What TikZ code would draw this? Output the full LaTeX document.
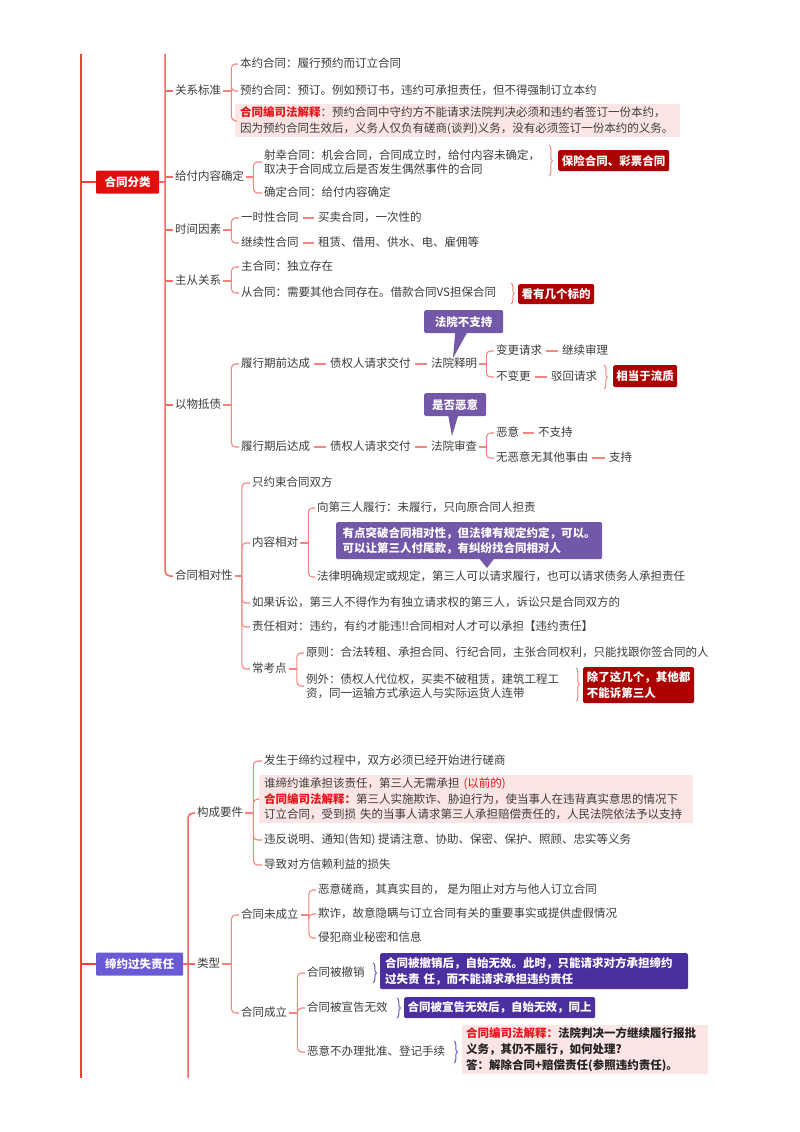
\documentclass[tikz,border=0pt]{standalone}
\usepackage{fontspec}
\setmainfont{Noto Sans CJK SC}
\usetikzlibrary{decorations.pathreplacing}
\definecolor{trunkred}{HTML}{EF4136}
\definecolor{lvred}{HTML}{F26A62}
\definecolor{linkred}{HTML}{F4857E}
\definecolor{txtgray}{HTML}{3C3C3C}
\definecolor{rootred}{HTML}{E30D0D}
\definecolor{darkred}{HTML}{AD0000}
\definecolor{lawred}{HTML}{E8141B}
\definecolor{pinkbg}{HTML}{FCE5E5}
\definecolor{callpurple}{HTML}{7357A8}
\definecolor{indigo}{HTML}{4B2F9F}
\definecolor{rootpurple}{HTML}{6B5AD6}
\definecolor{bracepurple}{HTML}{6A55C8}
\definecolor{darktxt}{HTML}{222222}
\newcommand{\myfs}{\fontsize{11.5pt}{14.5pt}\selectfont}
\newcommand{\myfsb}{\fontsize{11.5pt}{15.5pt}\selectfont}
\begin{document}
\begin{tikzpicture}[x=1pt,y=-1pt,
  txt/.style={anchor=west, inner xsep=2pt, inner ysep=1pt, text=txtgray, font=\myfs, align=left, text height=0.85em, text depth=0.12em},
  txtm/.style={anchor=west, inner xsep=2pt, inner ysep=1pt, text=txtgray, font=\myfs, align=left},
  conn/.style={draw=linkred, line width=1.1pt, rounded corners=4pt},
  dashc/.style={draw=linkred, line width=1.4pt, shorten <=2pt, shorten >=2pt},
  trunk/.style={draw=trunkred, line width=2.4pt},
  lvl/.style={draw=lvred, line width=1.5pt, rounded corners=5pt},
  rbrace/.style={draw=linkred, line width=1pt, decorate, decoration={brace, amplitude=3.5pt}},
  pbrace/.style={draw=bracepurple, line width=1pt, decorate, decoration={brace, amplitude=3.5pt}},
  box/.style={anchor=north west, text=white, font=\myfsb\bfseries, inner sep=0pt, align=left, rounded corners=1.5pt},
  redbox/.style={box, fill=darkred},
  callbox/.style={box, fill=callpurple},
  indbox/.style={box, fill=indigo},
  pinkbox/.style={anchor=north west, fill=pinkbg, text=txtgray, font=\myfsb, inner xsep=5pt, inner ysep=0pt, align=left},
  rootbox/.style={text=white, font=\myfs\bfseries, inner sep=0pt, minimum height=23pt, rounded corners=1pt}
]
\fill[white] (0,0) rectangle (800,1132);
\useasboundingbox (0,0) rectangle (800,1132);

% ===== trunk =====
\coordinate (T0) at (81,54);
\coordinate (T1) at (81,1078);
\draw[trunk] (T0) -- (T1);

% ===== branch 1 =====
\node[rootbox, fill=rootred, minimum width=63pt] (r1) at (127.5,182) {合同分类};
\draw[trunk] (T0 |- r1) -- (r1.west);
\coordinate (L1t) at (165,54);

\node[txt] (gx) at (173,91) {关系标准};
\node[txt] (jf) at (173,177) {给付内容确定};
\node[txt] (sj) at (173,230) {时间因素};
\node[txt] (zc) at (173,281) {主从关系};
\node[txt] (yw) at (173,405) {以物抵债};
\node[txt] (xd) at (173,576) {合同相对性};

\draw[lvl] (L1t) |- (xd.west);
\draw[lvl] (r1.east) -- (L1t |- r1);
\foreach \c in {gx,jf,sj,zc,yw} \draw[lvl] (L1t |- \c) -- (\c.west);

% 关系标准
\node[txt] (by) at (238,64) {本约合同：履行预约而订立合同};
\node[txt] (yy) at (238,91) {预约合同：预订。例如预订书，违约可承担责任，但不得强制订立本约};
\node[pinkbox, text width=435pt, minimum height=33pt] (pk1) at (235,104) {{\color{lawred}\bfseries 合同编司法解释}：预约合同中守约方不能请求法院判决必须和违约者签订一份本约，\\因为预约合同生效后，义务人仅负有磋商(谈判)义务，没有必须签订一份本约的义务。};
\draw[conn] (gx.east) -- ([xshift=8pt]gx.east);
\foreach \c in {by,yy,pk1} \draw[conn] ([xshift=8pt]gx.east) |- (\c.west);

% 给付内容确定
\node[txtm] (sx) at (262,162) {射幸合同：机会合同，合同成立时，给付内容未确定，\\取决于合同成立后是否发生偶然事件的合同};
\node[txt] (qd) at (262,193) {确定合同：给付内容确定};
\draw[conn] (jf.east) -- ([xshift=7pt]jf.east);
\foreach \c in {sx,qd} \draw[conn] ([xshift=7pt]jf.east) |- (\c.west);
\node[redbox, minimum width=111pt, minimum height=21pt, align=center] (bx1) at (558,150) {保险合同、彩票合同};
\draw[rbrace] (549,145) -- (549,176);

% 时间因素
\node[txt] (ys) at (239,218) {一时性合同};
\node[txt] (mm) at (316,218) {买卖合同，一次性的};
\node[txt] (jx) at (239,243) {继续性合同};
\node[txt] (zl) at (316,243) {租赁、借用、供水、电、雇佣等};
\draw[conn] (sj.east) -- ([xshift=8pt]sj.east);
\foreach \c in {ys,jx} \draw[conn] ([xshift=8pt]sj.east) |- (\c.west);
\draw[dashc] (ys.east) -- (mm.west);
\draw[dashc] (jx.east) -- (zl.west);

% 主从关系
\node[txt] (zh) at (239,267) {主合同：独立存在};
\node[txt] (ch) at (239,293) {从合同：需要其他合同存在。借款合同VS担保合同};
\draw[conn] (zc.east) -- ([xshift=8pt]zc.east);
\foreach \c in {zh,ch} \draw[conn] ([xshift=8pt]zc.east) |- (\c.west);
\node[redbox, minimum width=76pt, minimum height=20pt, align=center] (bx2) at (518,284) {看有几个标的};
\draw[rbrace] (511,283) -- (511,304);

% 以物抵债
\node[txt] (lq) at (239,364) {履行期前达成};
\node[txt] (zq1) at (328,364) {债权人请求交付};
\node[txt] (sm) at (429,364) {法院释明};
\node[txt] (bg) at (494,351) {变更请求};
\node[txt] (jxsl) at (560,351) {继续审理};
\node[txt] (bbg) at (494,377) {不变更};
\node[txt] (bh) at (549,377) {驳回请求};
\node[redbox, minimum width=64pt, minimum height=22pt, align=center] (bx3) at (613,365) {相当于流质};
\draw[rbrace] (604,365) -- (604,389);
\node[callbox, minimum width=79pt, minimum height=23pt, align=center] (cb1) at (424,310) {法院不支持};
\coordinate (tip1) at (453,358);
\fill[callpurple] ([xshift=-8.5pt,yshift=1pt]cb1.south) -- (tip1) -- ([xshift=3.5pt,yshift=1pt]cb1.south) -- cycle;

\node[txt] (lh) at (239,447) {履行期后达成};
\node[txt] (zq2) at (328,447) {债权人请求交付};
\node[txt] (sc) at (429,447) {法院审查};
\node[txt] (ey) at (494,433) {恶意};
\node[txt] (bzc) at (536,433) {不支持};
\node[txt] (wey) at (494,458) {无恶意无其他事由};
\node[txt] (zc2) at (607,458) {支持};
\node[callbox, minimum width=62pt, minimum height=23pt, align=center] (cb2) at (424,393) {是否恶意};
\coordinate (tip2) at (452,436);
\fill[callpurple] ([xshift=-7pt,yshift=1pt]cb2.south) -- (tip2) -- ([xshift=3pt,yshift=1pt]cb2.south) -- cycle;

\draw[conn] (yw.east) -- ([xshift=8pt]yw.east);
\foreach \c in {lq,lh} \draw[conn] ([xshift=8pt]yw.east) |- (\c.west);
\draw[dashc] (lq.east) -- (zq1.west);
\draw[dashc] (zq1.east) -- (sm.west);
\draw[dashc] (lh.east) -- (zq2.west);
\draw[dashc] (zq2.east) -- (sc.west);
\draw[conn] (sm.east) -- ([xshift=7pt]sm.east);
\foreach \c in {bg,bbg} \draw[conn] ([xshift=7pt]sm.east) |- (\c.west);
\draw[conn] (sc.east) -- ([xshift=7pt]sc.east);
\foreach \c in {ey,wey} \draw[conn] ([xshift=7pt]sc.east) |- (\c.west);
\draw[dashc] (bg.east) -- (jxsl.west);
\draw[dashc] (bbg.east) -- (bh.west);
\draw[dashc] (ey.east) -- (bzc.west);
\draw[dashc] (wey.east) -- (zc2.west);

% 合同相对性
\node[txt] (yys) at (250,483) {只约束合同双方};
\node[txt] (nr) at (250,543) {内容相对};
\node[txt] (x3) at (315,508) {向第三人履行：未履行，只向原合同人担责};
\node[txt] (fl) at (315,577) {法律明确规定或规定，第三人可以请求履行，也可以请求债务人承担责任};
\node[callbox, minimum width=266pt, minimum height=37pt, align=left] (cb3) at (336,522) {有点突破合同相对性，但法律有规定约定，可以。\\可以让第三人付尾款，有纠纷找合同相对人};
\coordinate (tip3) at (487,568);
\fill[callpurple] ([xshift=10pt,yshift=1pt]cb3.south) -- (tip3) -- ([xshift=25pt,yshift=1pt]cb3.south) -- cycle;
\node[txt] (ss) at (250,603) {如果诉讼，第三人不得作为有独立请求权的第三人，诉讼只是合同双方的};
\node[txt] (zr) at (250,627) {责任相对：违约，有约才能违!!合同相对人才可以承担【违约责任】};
\node[txt] (ck) at (250,669) {常考点};
\node[txt] (yz) at (304,653) {原则：合法转租、承担合同、行纪合同，主张合同权利，只能找跟你签合同的人};
\node[txtm] (lw) at (304,686) {例外：债权人代位权，买卖不破租赁，建筑工程工\\资，同一运输方式承运人与实际运货人连带};
\node[redbox, minimum width=111pt, minimum height=36pt, align=left] (bx4) at (583,667) {除了这几个，其他都\\不能诉第三人};
\draw[rbrace] (576,668) -- (576,701);

\draw[conn] (xd.east) -- ([xshift=7pt]xd.east);
\foreach \c in {yys,nr,ss,zr,ck} \draw[conn] ([xshift=7pt]xd.east) |- (\c.west);
\draw[conn] (nr.east) -- ([xshift=8pt]nr.east);
\foreach \c in {x3,fl} \draw[conn] ([xshift=8pt]nr.east) |- (\c.west);
\draw[conn] (ck.east) -- ([xshift=8pt]ck.east);
\foreach \c in {yz,lw} \draw[conn] ([xshift=8pt]ck.east) |- (\c.west);

% ===== branch 2 =====
\node[rootbox, fill=rootpurple, minimum width=87pt] (r2) at (139.5,964) {缔约过失责任};
\draw[trunk] (T0 |- r2) -- (r2.west);
\coordinate (L2b) at (188,1078);
\node[txt] (gc) at (195,813) {构成要件};
\node[txt] (lx) at (195,964) {类型};
\draw[lvl] (gc.west) -| (L2b);
\draw[lvl] (r2.east) -- (lx.west);

% 构成要件
\node[txt] (fs) at (262,761) {发生于缔约过程中，双方必须已经开始进行磋商};
\node[pinkbox, text width=424pt, minimum height=48pt] (pk2) at (259,775) {谁缔约谁承担该责任，第三人无需承担 {\color{lawred}(以前的)}\\{\color{lawred}\bfseries 合同编司法解释：}第三人实施欺诈、胁迫行为，使当事人在违背真实意思的情况下\\订立合同，受到损 失的当事人请求第三人承担赔偿责任的，人民法院依法予以支持};
\node[txt] (wf) at (262,840) {违反说明、通知(告知) 提请注意、协助、保密、保护、照顾、忠实等义务};
\node[txt] (dz) at (262,865) {导致对方信赖利益的损失};
\draw[conn] (gc.east) -- ([xshift=8pt]gc.east);
\foreach \c in {fs,pk2,wf,dz} \draw[conn] ([xshift=8pt]gc.east) |- (\c.west);

% 类型
\node[txt] (wcl) at (239,915) {合同未成立};
\node[txt] (cl) at (239,1013) {合同成立};
\draw[conn] (lx.east) -- ([xshift=9pt]lx.east);
\foreach \c in {wcl,cl} \draw[conn] ([xshift=9pt]lx.east) |- (\c.west);

\node[txt] (eycs) at (316,890) {恶意磋商，其真实目的， 是为阻止对方与他人订立合同};
\node[txt] (qz) at (316,914) {欺诈，故意隐瞒与订立合同有关的重要事实或提供虚假情况};
\node[txt] (qf) at (316,938) {侵犯商业秘密和信息};
\draw[conn] (wcl.east) -- ([xshift=8pt]wcl.east);
\foreach \c in {eycs,qz,qf} \draw[conn] ([xshift=8pt]wcl.east) |- (\c.west);

\node[txt] (bcx) at (305,973) {合同被撤销};
\node[txt] (xg) at (305,1008) {合同被宣告无效};
\node[txt] (eyb) at (305,1052) {恶意不办理批准、登记手续};
\draw[conn] (cl.east) -- ([xshift=8pt]cl.east);
\foreach \c in {bcx,xg,eyb} \draw[conn] ([xshift=8pt]cl.east) |- (\c.west);

\node[indbox, inner xsep=5pt, text width=298pt, minimum height=36pt, align=left] (bx5) at (380,953) {合同被撤销后，自始无效。此时，只能请求对方承担缔约\\过失责 任，而不能请求承担违约责任};
\draw[pbrace] (373,963) -- (373,983);
\node[indbox, minimum width=191pt, minimum height=21pt, align=center] (bx6) at (404,997) {合同被宣告无效后，自始无效，同上};
\draw[pbrace] (397,998) -- (397,1018);
\node[pinkbox, text=darktxt, font=\fontsize{11.5pt}{16pt}\selectfont\bfseries, inner xsep=4pt, text width=238pt, minimum height=49pt] (pk3) at (462,1025) {{\color{lawred}合同编司法解释：}法院判决一方继续履行报批\\义务，其仍不履行，如何处理?\\答：解除合同+赔偿责任(参照违约责任)。};
\draw[pbrace] (454,1041) -- (454,1063);
\end{tikzpicture}
\end{document}
